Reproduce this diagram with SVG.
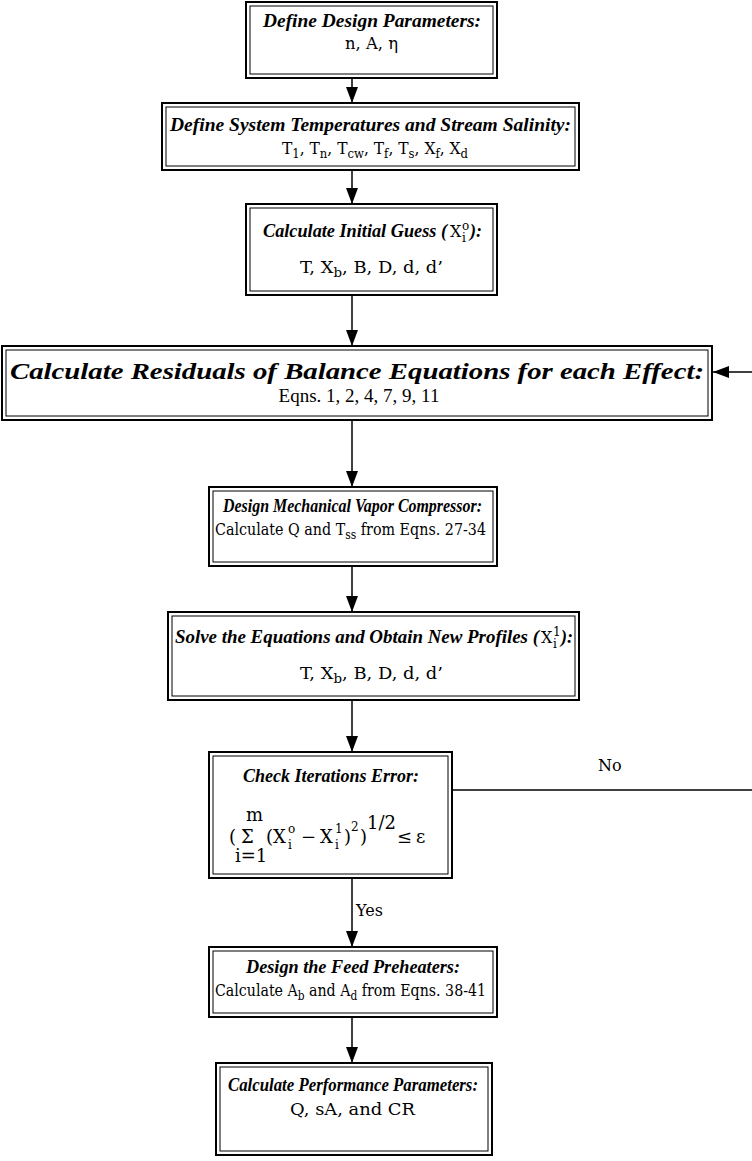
<svg xmlns="http://www.w3.org/2000/svg" width="752" height="1161" viewBox="0 0 752 1161">
<style>
.o{fill:#fff;stroke:#000;stroke-width:2}
.i{fill:none;stroke:#000;stroke-width:1}
.t{font-family:"Liberation Serif","DejaVu Serif",serif;font-weight:bold;font-style:italic;font-size:18px;fill:#000}
.b{font-family:"DejaVu Serif","Liberation Serif",serif;font-size:16px;fill:#000}
.f{font-family:"DejaVu Serif","Liberation Serif",serif;font-size:18px;fill:#000}
.s{font-size:12px}
.c{stroke:#000;stroke-width:1.5;fill:none}
</style>
<defs>
<marker id="ah" markerWidth="16" markerHeight="12" refX="16" refY="6" orient="auto" markerUnits="userSpaceOnUse">
<path d="M0,0 L16,6 L0,12 Z" fill="#000"/>
</marker>
</defs>
<g id="connectors">
<line class="c" x1="352" y1="78" x2="352" y2="103" marker-end="url(#ah)"/>
<line class="c" x1="352" y1="170" x2="352" y2="204" marker-end="url(#ah)"/>
<line class="c" x1="352" y1="295" x2="352" y2="346" marker-end="url(#ah)"/>
<line class="c" x1="352" y1="420" x2="352" y2="487" marker-end="url(#ah)"/>
<line class="c" x1="352" y1="566" x2="352" y2="612" marker-end="url(#ah)"/>
<line class="c" x1="352" y1="700" x2="352" y2="752" marker-end="url(#ah)"/>
<line class="c" x1="352" y1="878" x2="352" y2="947" marker-end="url(#ah)"/>
<line class="c" x1="352" y1="1017" x2="352" y2="1063" marker-end="url(#ah)"/>
<line class="c" x1="752" y1="372" x2="713" y2="372" marker-end="url(#ah)"/>
<line class="c" x1="452" y1="790" x2="752" y2="790"/>
<text class="b" x="598" y="771">No</text>
<text class="b" x="356" y="916">Yes</text>
</g>
<g id="n1">
<rect class="o" x="246" y="2" width="251" height="76"/><rect class="i" x="250" y="6" width="243" height="68"/>
<text class="t" x="263" y="27" textLength="218" lengthAdjust="spacingAndGlyphs">Define Design Parameters:</text>
<text class="b" x="345" y="49" textLength="53" lengthAdjust="spacingAndGlyphs">n, A, η</text>
</g>
<g id="n2">
<rect class="o" x="162" y="103" width="417" height="67"/><rect class="i" x="166" y="107" width="409" height="59"/>
<text class="t" x="170" y="131" textLength="401" lengthAdjust="spacingAndGlyphs">Define System Temperatures and Stream Salinity:</text>
<text class="b" x="282" y="154" textLength="186" lengthAdjust="spacingAndGlyphs">T<tspan class="s" dy="4">1</tspan><tspan dy="-4">, T</tspan><tspan class="s" dy="4">n</tspan><tspan dy="-4">, T</tspan><tspan class="s" dy="4">cw</tspan><tspan dy="-4">, T</tspan><tspan class="s" dy="4">f</tspan><tspan dy="-4">, T</tspan><tspan class="s" dy="4">s</tspan><tspan dy="-4">, X</tspan><tspan class="s" dy="4">f</tspan><tspan dy="-4">, X</tspan><tspan class="s" dy="4">d</tspan></text>
</g>
<g id="n3">
<rect class="o" x="246" y="204" width="251" height="91"/><rect class="i" x="250" y="208" width="243" height="83"/>
<text class="t" x="263" y="237" textLength="184" lengthAdjust="spacingAndGlyphs">Calculate Initial Guess (</text>
<text class="b" x="450" y="237">X</text><text class="b s" x="462" y="230">o</text><text class="b s" x="462" y="242">i</text>
<text class="t" x="470" y="237">):</text>
<text class="b" x="300" y="273" textLength="143" lengthAdjust="spacingAndGlyphs">T, X<tspan class="s" dy="4">b</tspan><tspan dy="-4">, B, D, d, d’</tspan></text>
</g>
<g id="n4">
<rect class="o" x="2" y="346" width="710" height="74"/><rect class="i" x="6" y="350" width="702" height="66"/>
<text x="10" y="379" font-family="Liberation Serif, serif" font-style="italic" font-weight="bold" font-size="24" textLength="694" lengthAdjust="spacingAndGlyphs">Calculate Residuals of Balance Equations for each Effect:</text>
<text x="359" y="402" text-anchor="middle" font-family="Liberation Serif, serif" font-size="19">Eqns. 1, 2, 4, 7, 9, 11</text>
</g>
<g id="n5">
<rect class="o" x="209" y="487" width="288" height="79"/><rect class="i" x="213" y="491" width="280" height="71"/>
<text class="t" x="223" y="512" textLength="259" lengthAdjust="spacingAndGlyphs">Design Mechanical Vapor Compressor:</text>
<text class="b" x="215" y="535" font-size="15" textLength="271" lengthAdjust="spacingAndGlyphs">Calculate Q and T<tspan class="s" dy="4">ss</tspan><tspan dy="-4"> from Eqns. 27-34</tspan></text>
</g>
<g id="n6">
<rect class="o" x="168" y="612" width="411" height="88"/><rect class="i" x="172" y="616" width="403" height="80"/>
<text class="t" x="175" y="643" textLength="364" lengthAdjust="spacingAndGlyphs">Solve the Equations and Obtain New Profiles (</text>
<text class="b" x="541" y="643">X</text><text class="b s" x="553" y="636">1</text><text class="b s" x="553" y="648">i</text>
<text class="t" x="561" y="643">):</text>
<text class="b" x="300" y="679" textLength="143" lengthAdjust="spacingAndGlyphs">T, X<tspan class="s" dy="4">b</tspan><tspan dy="-4">, B, D, d, d’</tspan></text>
</g>
<g id="n7">
<rect class="o" x="209" y="752" width="243" height="126"/><rect class="i" x="213" y="756" width="235" height="118"/>
<text class="t" x="331" y="782" text-anchor="middle">Check Iterations Error:</text>
<text class="f" x="229" y="843" font-size="20">(</text>
<text class="f" x="241" y="843" font-size="22">Σ</text>
<text class="f" x="246" y="821" font-size="14">m</text>
<text class="f" x="235" y="862" font-size="14">i=1</text>
<text class="f" x="266" y="843">(</text>
<text class="f" x="273" y="843">X</text><text class="f s" x="288" y="833">o</text><text class="f s" x="288" y="849">i</text>
<text class="f" x="301" y="843">−</text>
<text class="f" x="320" y="843">X</text><text class="f s" x="335" y="833">1</text><text class="f s" x="335" y="849">i</text>
<text class="f" x="344" y="843">)</text><text class="f s" x="351" y="831">2</text>
<text class="f" x="360" y="843">)</text><text class="f" x="367" y="829" font-size="14">1/2</text>
<text class="f" x="397" y="843">≤</text>
<text class="f" x="416" y="843">ε</text>
</g>
<g id="n8">
<rect class="o" x="209" y="947" width="288" height="70"/><rect class="i" x="213" y="951" width="280" height="62"/>
<text class="t" x="246" y="973" textLength="214" lengthAdjust="spacingAndGlyphs">Design the Feed Preheaters:</text>
<text class="b" x="215" y="996" font-size="15" textLength="271" lengthAdjust="spacingAndGlyphs">Calculate A<tspan class="s" dy="4">b</tspan><tspan dy="-4"> and A</tspan><tspan class="s" dy="4">d</tspan><tspan dy="-4"> from Eqns. 38-41</tspan></text>
</g>
<g id="n9">
<rect class="o" x="216" y="1063" width="276" height="92"/><rect class="i" x="220" y="1067" width="268" height="84"/>
<text class="t" x="228" y="1091" textLength="250" lengthAdjust="spacingAndGlyphs">Calculate Performance Parameters:</text>
<text class="b" x="290" y="1115" textLength="125" lengthAdjust="spacingAndGlyphs">Q, sA, and CR</text>
</g>
</svg>
